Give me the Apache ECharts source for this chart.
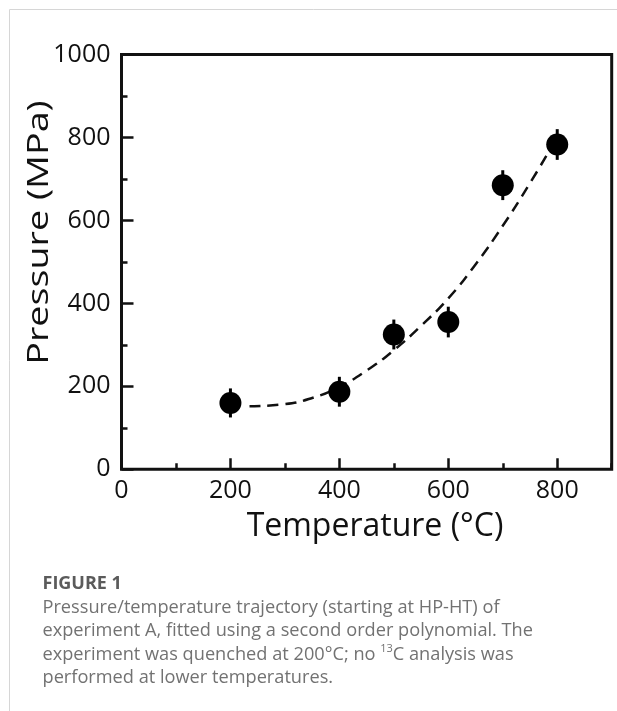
<!DOCTYPE html>
<html><head><meta charset="utf-8">
<script src="https://cdn.jsdelivr.net/npm/echarts@6/dist/echarts.min.js"></script>
<style>html,body{margin:0;padding:0;background:#fff}#c{width:617px;height:711px}</style>
</head><body><div id="c"></div>
<script>
// Measured points (Temperature °C, Pressure MPa) with error half-widths
const temperatures = [200, 400, 500, 600, 700, 800];
const pressures = [160, 187, 325, 355, 685, 783];
const pressureErrors = [35, 36, 36, 37, 36, 37];
// Dashed second-order polynomial fit
const fitTemperatures = [235, 300, 350, 400, 450, 500, 550, 600, 650, 700, 750, 790];
const fitPressures = [152, 157, 172, 199, 238, 287, 346, 412, 494, 587, 690, 778];
// Tick labels
const xTickLabels = ['0', '200', '400', '600', '800'];
const yTickLabels = ['0', '200', '400', '600', '800', '1000'];

const FONT = "'Open Sans', 'Noto Sans', sans-serif";
const INK = '#111';

const chart = echarts.init(document.getElementById('c'), null, {renderer: 'canvas'});

const captionLines = [
  'Pressure/temperature trajectory (starting at HP-HT) of',
  'experiment A, fitted using a second order polynomial. The',
  'experiment was quenched at 200°C; no {sup|13}C analysis was',
  'performed at lower temperatures.'
];
const captionCenters = [607.5, 631, 654.5, 678];

const graphics = [
  {type: 'line', shape: {x1: 9.5, y1: 9.5, x2: 617, y2: 9.5}, style: {stroke: '#d6d6d6', lineWidth: 1}, silent: true},
  {type: 'line', shape: {x1: 9.5, y1: 9.5, x2: 9.5, y2: 711}, style: {stroke: '#d6d6d6', lineWidth: 1}, silent: true},
  {type: 'text', x: 375, y: 526.5, silent: true,
    style: {text: 'Temperature (°C)', fontSize: 32, fontFamily: FONT, fill: INK, align: 'center', verticalAlign: 'middle'}},
  {type: 'text', x: 39.5, y: 232.5, rotation: Math.PI / 2, scaleX: 1.3, scaleY: 1.03, silent: true,
    style: {text: 'Pressure (MPa)', fontSize: 29, fontFamily: FONT, fill: INK, align: 'center', verticalAlign: 'middle'}},
  {type: 'text', x: 42.5, y: 583.5, silent: true,
    style: {text: 'FIGURE 1', fontSize: 18, fontWeight: 'bold', fontFamily: FONT, fill: '#5b5b5b', align: 'left', verticalAlign: 'middle'}}
];
captionLines.forEach((t, i) => {
  graphics.push({type: 'text', x: 42.5, y: captionCenters[i], silent: true,
    style: {text: t, fontSize: 18.2, fontFamily: FONT, fill: '#727272', align: 'left', verticalAlign: 'middle', lineHeight: 23,
      rich: {sup: {fontSize: 11, fontFamily: FONT, fill: '#727272', verticalAlign: 'top', lineHeight: 13}}}});
});

const option = {
  animation: false,
  backgroundColor: '#fff',
  grid: {left: 121.5, right: 5.3, top: 54.5, bottom: 241.7, show: true, borderColor: INK, borderWidth: 3, backgroundColor: 'transparent'},
  xAxis: [
    {type: 'value', min: 0, max: 900, interval: 100, position: 'bottom',
      axisLine: {show: false}, splitLine: {show: false}, axisLabel: {show: false},
      axisTick: {show: true, inside: true, length: 6, lineStyle: {color: INK, width: 2.5}}},
    {type: 'value', min: 0, max: 900, interval: 200, position: 'bottom',
      axisLine: {show: false}, splitLine: {show: false},
      axisTick: {show: true, inside: true, length: 11, lineStyle: {color: INK, width: 2.5}},
      axisLabel: {show: true, showMaxLabel: false, margin: 9, fontSize: 25, fontFamily: FONT, color: INK,
        formatter: v => xTickLabels.includes(String(v)) ? String(v) : ''}}
  ],
  yAxis: {type: 'value', min: 0, max: 1000, interval: 200,
    axisLine: {show: false}, splitLine: {show: false},
    axisTick: {show: true, inside: true, length: 12, lineStyle: {color: INK, width: 2.5}},
    minorTick: {show: true, splitNumber: 2, length: 6, lineStyle: {color: INK, width: 2.5}},
    minorSplitLine: {show: false},
    axisLabel: {show: true, margin: 11, fontSize: 25, fontFamily: FONT, color: INK, padding: [0, 0, 4, 0],
      formatter: v => yTickLabels.includes(String(v)) ? String(v) : ''}},
  graphic: graphics,
  series: [
    {type: 'line', xAxisIndex: 1, smooth: true, symbol: 'none', silent: true, z: 2,
      data: fitTemperatures.map((t, i) => [t, fitPressures[i]]),
      lineStyle: {color: INK, width: 2.5, type: [11, 7]}},
    {type: 'custom', xAxisIndex: 1, z: 3, silent: true,
      data: temperatures.map((t, i) => [t, pressures[i] - pressureErrors[i], pressures[i] + pressureErrors[i]]),
      encode: {x: 0, y: [1, 2]},
      renderItem: (params, api) => {
        const lo = api.coord([api.value(0), api.value(1)]);
        const hi = api.coord([api.value(0), api.value(2)]);
        return {type: 'line', shape: {x1: lo[0], y1: lo[1], x2: hi[0], y2: hi[1]}, style: {stroke: '#000', lineWidth: 3}};
      }},
    {type: 'scatter', xAxisIndex: 1, z: 4, silent: true, symbol: 'circle', symbolSize: 22,
      data: temperatures.map((t, i) => [t, pressures[i]]),
      itemStyle: {color: '#000', opacity: 1}}
  ]
};
chart.setOption(option);
</script></body></html>
